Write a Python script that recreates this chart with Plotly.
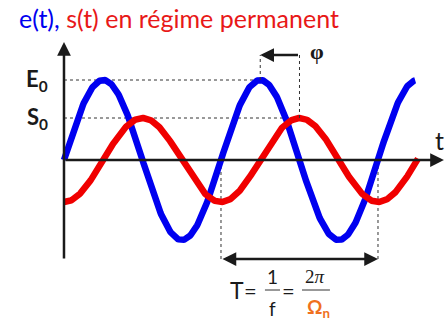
import numpy as np
import plotly.graph_objects as go

# Signal parameters (normalised units: period T = 1, input amplitude E0 = 1)
period = 1.0
e_amp = 1.0          # E0
s_amp = 0.525        # S0
phase_lag = 0.25     # phi, expressed as a fraction of the period
e_t_end = 2.237      # last drawn instant of e(t), in periods
s_t_end = 2.255      # last drawn instant of s(t), in periods

# Construction lines
e_peak_t = 1.25      # peak of e(t) used for the phase marker
s_peak_t = e_peak_t + phase_lag
period_start = 1.0   # rising zero crossing marking the start of T
phi_level = 1.3125   # height of the phase arrow
t_level = -1.2375    # height of the period arrow
x_axis_end = 2.42
y_axis_bottom = -1.25
y_axis_top = 1.475

# Axis window
x_range = [-0.4076, 2.4268]
y_range = [-2.0375, 2.0]

omega = 2 * np.pi / period
t_e = np.linspace(0, e_t_end, 500)
t_s = np.linspace(0, s_t_end, 500)
e_vals = e_amp * np.sin(omega * t_e)
s_vals = s_amp * np.sin(omega * (t_s - phase_lag))

BLUE = "#0000F0"
RED = "#F00000"
ORANGE = "#F07020"
INK = "#1a1a1a"

fig = go.Figure()
fig.add_trace(go.Scatter(x=t_e, y=e_vals, mode="lines",
                         line=dict(color=BLUE, width=6.5), hoverinfo="skip"))
fig.add_trace(go.Scatter(x=t_s, y=s_vals, mode="lines",
                         line=dict(color=RED, width=6.5), hoverinfo="skip"))

dash = dict(color="#333333", width=1, dash="3px,3px")
# E0 and S0 reference levels
fig.add_shape(type="line", x0=0, x1=e_peak_t, y0=e_amp, y1=e_amp, line=dash, layer="below")
fig.add_shape(type="line", x0=0, x1=s_peak_t, y0=s_amp, y1=s_amp, line=dash, layer="below")
# phase markers
fig.add_shape(type="line", x0=e_peak_t, x1=e_peak_t, y0=e_amp, y1=phi_level, line=dash)
fig.add_shape(type="line", x0=s_peak_t, x1=s_peak_t, y0=s_amp, y1=phi_level, line=dash)
# period markers
for tx in (period_start, period_start + period):
    fig.add_shape(type="line", x0=tx, x1=tx, y0=0, y1=t_level, line=dash, layer="below")


def arrow(x_head, y_head, x_tail, y_tail, both=False, width=2.5):
    fig.add_annotation(x=x_head, y=y_head, ax=x_tail, ay=y_tail,
                       xref="x", yref="y", axref="x", ayref="y",
                       text="", showarrow=True, arrowhead=2, arrowsize=1.1,
                       startarrowhead=2, startarrowsize=1.1,
                       arrowside="end+start" if both else "end",
                       arrowwidth=width, arrowcolor=INK, standoff=0, startstandoff=0)


# axes
arrow(x_axis_end, 0, 0, 0)
arrow(0, y_axis_top, 0, y_axis_bottom)
# phase arrow (points back to the e(t) peak)
arrow(e_peak_t, phi_level, s_peak_t, phi_level)
# period arrow
arrow(period_start + period, t_level, period_start, t_level, both=True)

FONT = "Lato, 'Liberation Sans', Arial, sans-serif"
SERIF = "'Liberation Serif', 'DejaVu Serif', serif"


def label(x, y, text, size, color=INK, xanchor="center", family=FONT):
    fig.add_annotation(x=x, y=y, xref="x", yref="y", text=text, showarrow=False,
                       font=dict(family=family, size=size, color=color),
                       xanchor=xanchor, yanchor="middle")


label(-0.17, e_amp, "<b>E<sub>0</sub></b>", 22)
label(-0.17, s_amp, "<b>S<sub>0</sub></b>", 22)
label(2.39, 0.25, "t", 25)
label(1.61, 1.36, "<b>φ</b>", 22, family=SERIF)

# T = 1/f = 2π/Ωn
frac_y = -1.625
num_y = -1.45
den_y = -1.85
label(1.102, frac_y, "T", 23)
label(1.19, frac_y, "=", 22)
label(1.325, num_y, "1", 19)
label(1.325, den_y, "f", 19)
label(1.433, frac_y, "=", 22)
label(1.60, num_y, "2<i>π</i>", 19, family=SERIF)
label(1.62, den_y, "<b>Ω<sub>n</sub></b>", 19, color=ORANGE)
bar = dict(color="#333333", width=1)
fig.add_shape(type="line", x0=1.28, x1=1.376, y0=frac_y, y1=frac_y, line=bar)
fig.add_shape(type="line", x0=1.516, x1=1.694, y0=frac_y, y1=frac_y, line=bar)

# title
fig.add_annotation(x=0.038, y=0.945, xref="paper", yref="paper", showarrow=False,
                   xanchor="left", yanchor="middle",
                   text=f"<span style='color:{BLUE}'>e(t),</span> "
                        f"<span style='color:#E81818'>s(t) en régime permanent</span>",
                   font=dict(family=FONT, size=25))

fig.update_layout(
    width=445, height=323, margin=dict(l=0, r=0, t=0, b=0),
    paper_bgcolor="white", plot_bgcolor="white", showlegend=False,
    xaxis=dict(range=x_range, visible=False, fixedrange=True),
    yaxis=dict(range=y_range, visible=False, fixedrange=True),
)

fig.write_html("out.html")
